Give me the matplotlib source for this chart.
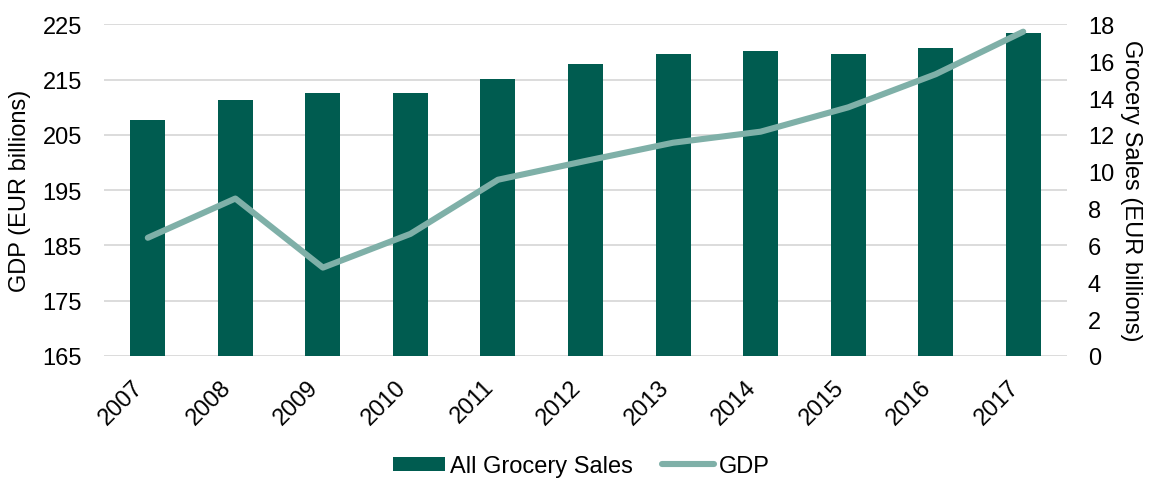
import matplotlib
matplotlib.use("Agg")
import matplotlib.pyplot as plt
from matplotlib.patches import Patch
from matplotlib.lines import Line2D

plt.rcParams['font.family'] = ['Liberation Sans', 'DejaVu Sans']

years = ['2007', '2008', '2009', '2010', '2011', '2012',
         '2013', '2014', '2015', '2016', '2017']
grocery_sales = [12.8, 13.9, 14.3, 14.3, 15.05, 15.85, 16.4, 16.55, 16.4, 16.7, 17.55]
gdp = [186.4, 193.5, 181.0, 187.1, 196.9, 200.3, 203.6, 205.6, 210.0, 216.0, 223.7]
gdp_ticks = [165, 175, 185, 195, 205, 215, 225]
sales_ticks = list(range(0, 19, 2))

bar_color = '#005c50'
line_color = '#7fb0a8'
grid_color = '#d9d9d9'
fs = 17

fig = plt.figure(figsize=(11.51, 4.81), dpi=100)
ax = fig.add_axes([0.0904, 0.2578, 0.8366, 0.6892])
ax2 = ax.twinx()

x = list(range(len(years)))

# Bars on the right-hand axis, line on the left-hand axis (drawn on top)
ax2.bar(x, grocery_sales, width=0.4, color=bar_color, zorder=2)
ax2.set_ylim(0, 18)
ax2.set_yticks(sales_ticks)

ax.set_zorder(ax2.get_zorder() + 1)
ax.patch.set_visible(False)
ax.plot(x, gdp, color=line_color, linewidth=4.4, solid_capstyle='round',
        solid_joinstyle='round', zorder=3)
ax.set_ylim(165, 225)
ax.set_yticks(gdp_ticks)
ax.set_xlim(-0.5, len(years) - 0.5)

# Gridlines follow the GDP scale, drawn behind the bars
for t in gdp_ticks:
    ax2.axhline((t - 165) / 60 * 18, color=grid_color, lw=1.3, zorder=1)

for a in (ax, ax2):
    for s in a.spines.values():
        s.set_visible(False)
    a.tick_params(length=0, labelsize=fs, colors='#000000')

ax.set_xticks(x)
ax.set_xticklabels(years, rotation=45, ha='right', va='top')
ax.tick_params(axis='x', pad=14)
ax.tick_params(axis='y', pad=16)
ax2.tick_params(axis='y', pad=15)

ax.set_ylabel('GDP (EUR billions)', fontsize=fs, labelpad=8)
ax2.set_ylabel('Grocery Sales (EUR billions)', fontsize=fs, rotation=270,
               labelpad=20)

handles = [Patch(facecolor=bar_color, edgecolor='none'),
           Line2D([0], [0], color=line_color, lw=4.4, solid_capstyle='round')]
fig.legend(handles, ['All Grocery Sales', 'GDP'], loc='center',
           bbox_to_anchor=(0.505, 0.029), ncol=2, frameon=False,
           fontsize=fs, handlelength=2.2, handleheight=0.55,
           handletextpad=0.2, columnspacing=1.25, borderpad=0)

fig.savefig('out.png', dpi=100)
